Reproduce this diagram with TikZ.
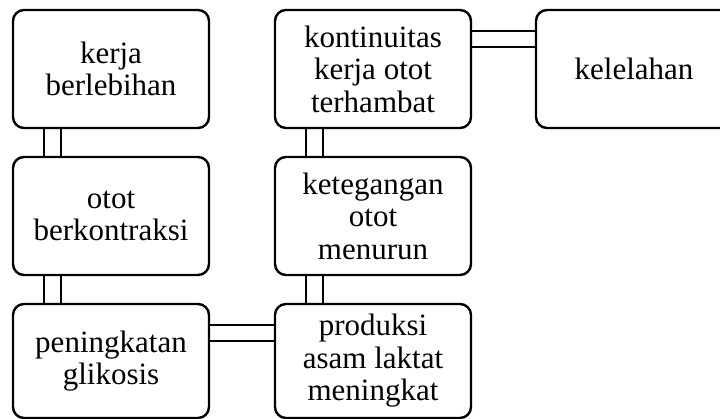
\documentclass[tikz,border=0pt]{standalone}
\usepackage{fontspec}
\setmainfont{Liberation Serif}
\usetikzlibrary{backgrounds,calc}
\begin{document}
\begin{tikzpicture}[x=1pt,y=-1pt,
  box/.style={draw,line width=2.4pt,rounded corners=11pt,fill=white,
    minimum width=196pt,minimum height=118pt,inner sep=0pt,outer sep=0pt,
    align=center,font=\fontsize{31}{32.5}\selectfont},
  link/.style={draw,line width=2.2pt,double=white,double distance=14.5pt}]
\useasboundingbox (0,0) rectangle (720,419);
\clip (0,0) rectangle (720,419);
\node[box] (b1) at (111,69) {kerja\\berlebihan};
\node[box] (b2) at (111,216) {otot\\berkontraksi};
\node[box,minimum height=114pt] (b3) at (111,361) {peningkatan\\glikosis};
\node[box] (b4) at (373,69) {kontinuitas\\kerja otot\\terhambat};
\node[box] (b5) at (373,216) {ketegangan\\otot\\menurun};
\node[box,minimum height=114pt] (b6) at (373,361) {produksi\\asam laktat\\meningkat};
\node[box] (b7) at (634,69) {kelelahan};
\begin{scope}[on background layer]
\draw[link] ($(b1.south west)+(39.5,0)$) -- ($(b2.north west)+(39.5,0)$);
\draw[link] ($(b2.south west)+(39.5,0)$) -- ($(b3.north west)+(39.5,0)$);
\draw[link] ($(b4.south west)+(39.5,0)$) -- ($(b5.north west)+(39.5,0)$);
\draw[link] ($(b5.south west)+(39.5,0)$) -- ($(b6.north west)+(39.5,0)$);
\draw[link] ($(b3.north east)+(0,29)$) -- ($(b6.north west)+(0,29)$);
\draw[link] ($(b4.north east)+(0,29)$) -- ($(b7.north west)+(0,29)$);
\end{scope}
\end{tikzpicture}
\end{document}
